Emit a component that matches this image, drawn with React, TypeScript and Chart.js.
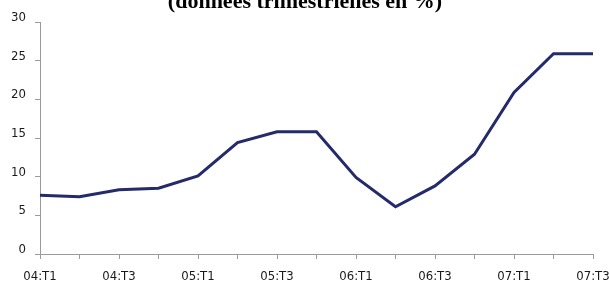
import React, { useEffect, useRef } from "react";
import { Chart, registerables } from "chart.js";

Chart.register(...registerables);

const categories = [
  "04:T1", "04:T2", "04:T3", "04:T4",
  "05:T1", "05:T2", "05:T3", "05:T4",
  "06:T1", "06:T2", "06:T3", "06:T4",
  "07:T1", "07:T2", "07:T3",
];
const seriesValues = [7.6, 7.4, 8.3, 8.5, 10.1, 14.4, 15.8, 15.8, 9.9, 6.1, 8.8, 12.9, 20.9, 25.9, 25.9];
const yTicks = [0, 5, 10, 15, 20, 25, 30];
const titleText = "(données trimestrielles en %)";

const FONT = "'Liberation Sans Narrow', 'DejaVu Sans Condensed', 'Open Sans', sans-serif";

export default function App() {
  const ref = useRef<HTMLCanvasElement | null>(null);
  useEffect(() => {
    document.body.style.margin = "0";
    const canvas = ref.current;
    if (!canvas) return;
    const titlePlugin = {
      id: "clippedTitle",
      afterDraw(chart: any) {
        const ctx = chart.ctx;
        ctx.save();
        ctx.font = "bold 22px 'Liberation Serif', 'DejaVu Serif', serif";
        ctx.fillStyle = "#000";
        ctx.textAlign = "center";
        ctx.textBaseline = "alphabetic";
        ctx.fillText(titleText, 305, 8);
        ctx.restore();
      },
    };
    const chart = new Chart(canvas, {
      type: "line",
      data: {
        labels: categories,
        datasets: [
          {
            data: seriesValues,
            borderColor: "#252a6b",
            borderWidth: 3,
            pointRadius: 0,
            tension: 0,
            fill: false,
          },
        ],
      },
      options: {
        animation: false,
        responsive: false,
        maintainAspectRatio: false,
        layout: { padding: { top: 22, right: 17, bottom: 0, left: 0 } },
        plugins: { legend: { display: false }, tooltip: { enabled: false }, title: { display: false } },
        scales: {
          x: {
            type: "category",
            offset: false,
            grid: { display: true, drawOnChartArea: false, tickLength: 5, color: "#9a9a9a" },
            border: { display: true, color: "#9a9a9a", width: 1 },
            ticks: {
              autoSkip: false,
              maxRotation: 0,
              minRotation: 0,
              padding: 10,
              color: "#1a1a1a",
              font: { family: FONT, size: 13 },
              callback: (_v: any, i: number) => (i % 2 === 0 ? categories[i] : ""),
            },
            afterFit: (s: any) => { s.height = 28; s.paddingRight = 0; s.paddingLeft = 0; },
          },
          y: {
            min: 0,
            max: 30,
            afterBuildTicks: (s: any) => { s.ticks = yTicks.map((v) => ({ value: v })); },
            grid: { display: true, drawOnChartArea: false, tickLength: 5, color: "#9a9a9a" },
            border: { display: true, color: "#9a9a9a", width: 1 },
            ticks: {
              padding: 9,
              color: "#1a1a1a",
              font: { family: FONT, size: 13, lineHeight: "9px" },
              callback: (v: any) => [String(v), ""],
            },
            afterFit: (s: any) => { s.width = 40; s.paddingTop = 0; s.paddingBottom = 0; },
          },
        },
      },
      plugins: [titlePlugin],
    });
    return () => chart.destroy();
  }, []);
  return (
    <div style={{ width: 610, height: 282 }}>
      <canvas ref={ref} width={610} height={282} style={{ display: "block" }} />
    </div>
  );
}
